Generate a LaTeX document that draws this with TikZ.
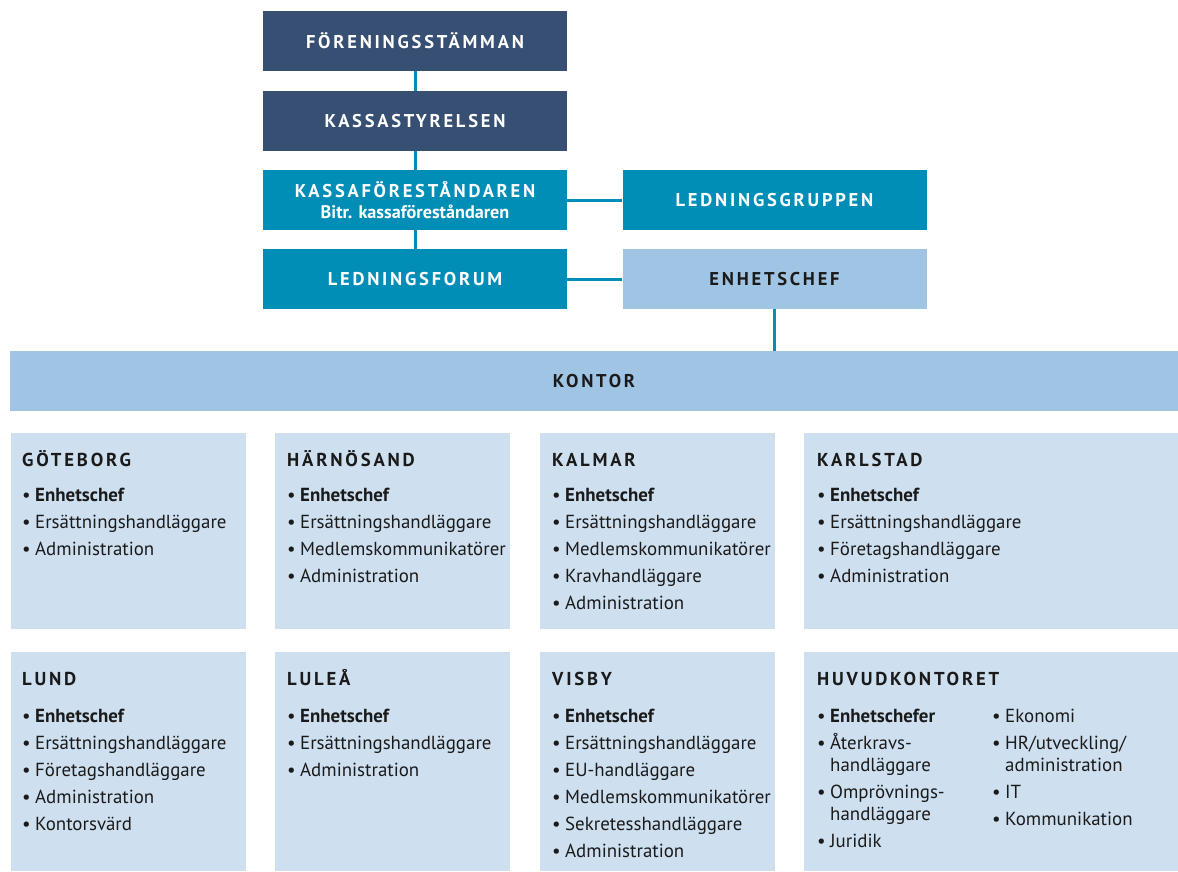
\documentclass[tikz,border=0pt]{standalone}
\usepackage{fontspec}
\setmainfont{PT Sans}
\newfontfamily\capsfont[LetterSpace=15]{PT Sans}
\definecolor{navy}{HTML}{374F73}
\definecolor{teal}{HTML}{008EB7}
\definecolor{sky}{HTML}{A0C5E4}
\definecolor{pale}{HTML}{CEE0F0}
\definecolor{ink}{HTML}{1A1A1A}
\newcommand{\itm}[1]{\makebox[13pt][l]{•}#1}
\newcommand{\cont}[1]{\hspace*{13pt}#1}
% list box whose baseline is that of its first line
\newcommand{\blist}[1]{\parbox[t]{300pt}{\raggedright #1}}
\tikzset{
  topbox/.style={rectangle, inner sep=0pt, minimum width=304pt, minimum height=60pt,
    font=\capsfont\bfseries\fontsize{18.5}{22}\selectfont, text=white, align=center},
  darkbox/.style={topbox, fill=navy},
  tealbox/.style={topbox, fill=teal},
  lightbox/.style={topbox, fill=sky, text=ink},
  office/.style={rectangle, inner sep=0pt, fill=pale, anchor=north west},
  otitle/.style={anchor=base west, inner sep=0pt, text=ink,
    font=\capsfont\bfseries\fontsize{18.7}{22}\selectfont},
  olist/.style={anchor=base west, inner sep=0pt, text=ink,
    font=\fontsize{18.9}{27}\selectfont},
  link/.style={draw=teal, line width=3pt}
}
\begin{document}
\begin{tikzpicture}[x=1pt,y=-1pt]
\useasboundingbox (0,0) rectangle (1178,871);

% governing bodies
\node[darkbox] (fs) at (415,41) {FÖRENINGSSTÄMMAN};
\node[darkbox] (ks) at (415,121) {KASSASTYRELSEN};
\node[tealbox] (kf) at (415,200) {KASSAFÖRESTÅNDAREN\\[-1pt]{\normalfont\bfseries\fontsize{18.2}{20}\selectfont Bitr. kassaföreståndaren}};
\node[tealbox] (lg) at (774.5,200) {LEDNINGSGRUPPEN};
\node[tealbox] (lf) at (415,279) {LEDNINGSFORUM};
\node[lightbox] (ec) at (774.5,279) {ENHETSCHEF};
\node[rectangle, inner sep=0pt, fill=sky, minimum width=1168pt, minimum height=60pt,
  text=ink, font=\capsfont\bfseries\fontsize{18.5}{22}\selectfont] (ko) at (594,381) {KONTOR};

% connectors
\draw[link] (fs.south) -- (ks.north);
\draw[link] (ks.south) -- (kf.north);
\draw[link] (kf.south) -- (lf.north);
\draw[link] (kf.east) -- (lg.west);
\draw[link] (lf.east) -- (ec.west);
\draw[link] (ec.south) -- (ec.south |- ko.north);

% offices, first row
\node[office, minimum width=235pt, minimum height=196pt] (gb) at (11,433) {};
\node[office, minimum width=235pt, minimum height=196pt] (hs) at (275,433) {};
\node[office, minimum width=235pt, minimum height=196pt] (km) at (540,433) {};
\node[office, minimum width=374pt, minimum height=196pt] (ks2) at (804,433) {};
% offices, second row
\node[office, minimum width=235pt, minimum height=219pt] (lu) at (11,652) {};
\node[office, minimum width=235pt, minimum height=219pt] (ll) at (275,652) {};
\node[office, minimum width=235pt, minimum height=219pt] (vb) at (540,652) {};
\node[office, minimum width=374pt, minimum height=219pt] (hk) at (804,652) {};

\node[otitle] (gbt) at (22,466) {GÖTEBORG};
\node[olist] (gbl) at (22,501) {\blist{\itm{\textbf{Enhetschef}}\\\itm{Ersättningshandläggare}\\\itm{Administration}}};

\node[otitle] (hst) at (287,466) {HÄRNÖSAND};
\node[olist] (hsl) at (287,501) {\blist{\itm{\textbf{Enhetschef}}\\\itm{Ersättningshandläggare}\\\itm{Medlemskommunikatörer}\\\itm{Administration}}};

\node[otitle] (kmt) at (552,466) {KALMAR};
\node[olist] (kml) at (552,501) {\blist{\itm{\textbf{Enhetschef}}\\\itm{Ersättningshandläggare}\\\itm{Medlemskommunikatörer}\\\itm{Kravhandläggare}\\\itm{Administration}}};

\node[otitle] (kst) at (817,466) {KARLSTAD};
\node[olist] (ksl) at (817,501) {\blist{\itm{\textbf{Enhetschef}}\\\itm{Ersättningshandläggare}\\\itm{Företagshandläggare}\\\itm{Administration}}};

\node[otitle] (lut) at (22,685) {LUND};
\node[olist] (lul) at (22,722) {\blist{\itm{\textbf{Enhetschef}}\\\itm{Ersättningshandläggare}\\\itm{Företagshandläggare}\\\itm{Administration}\\\itm{Kontorsvärd}}};

\node[otitle] (llt) at (287,685) {LULEÅ};
\node[olist] (lll) at (287,722) {\blist{\itm{\textbf{Enhetschef}}\\\itm{Ersättningshandläggare}\\\itm{Administration}}};

\node[otitle] (vbt) at (552,685) {VISBY};
\node[olist] (vbl) at (552,722) {\blist{\itm{\textbf{Enhetschef}}\\\itm{Ersättningshandläggare}\\\itm{EU-handläggare}\\\itm{Medlemskommunikatörer}\\\itm{Sekretesshandläggare}\\\itm{Administration}}};

\node[otitle] (hkt) at (817,685) {HUVUDKONTORET};
\node[olist] (hkl) at (817,722) {\blist{\itm{\textbf{Enhetschefer}}\\\itm{Återkravs-}\\[-5pt]\cont{handläggare}\\\itm{Omprövnings-}\\[-5pt]\cont{handläggare}\\\itm{Juridik}}};
\node[olist] (hkr) at (992,722) {\blist{\itm{Ekonomi}\\\itm{HR/utveckling/}\\[-5pt]\cont{administration}\\\itm{IT}\\\itm{Kommunikation}}};
\end{tikzpicture}
\end{document}
